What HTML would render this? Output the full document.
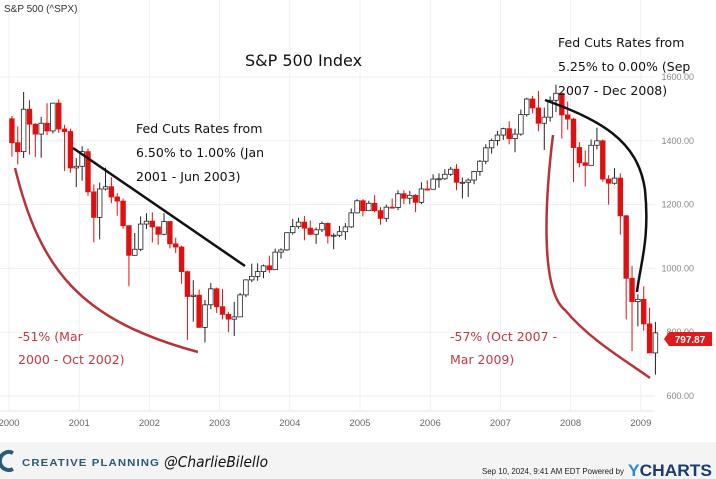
<!DOCTYPE html>
<html><head><meta charset="utf-8"><style>
body{margin:0;width:716px;height:479px;overflow:hidden;background:#fff;font-family:"Liberation Sans",sans-serif}
svg{display:block}
.hand{font-family:"DejaVu Sans",sans-serif}
</style></head><body>
<svg id="c" width="716" height="479">
<rect x="0" y="442" width="716" height="37" fill="#f4f4f4"/>
<g id="grid"></g><g id="candles"></g><g id="axes"></g>
<text x="4" y="12" font-size="10" fill="#333">S&amp;P 500 (^SPX)</text>
<text x="245" y="66" font-size="16" class="hand" fill="#111">S&amp;P 500 Index</text>
<g class="hand" font-size="12.5" fill="#111">
<text x="136" y="133">Fed Cuts Rates from</text><text x="136" y="157">6.50% to 1.00% (Jan</text><text x="136" y="181">2001 - Jun 2003)</text></g>
<g class="hand" font-size="12.5" fill="#111">
<text x="558" y="47">Fed Cuts Rates from</text><text x="558" y="71">5.25% to 0.00% (Sep</text><text x="558" y="95">2007 - Dec 2008)</text></g>
<g class="hand" font-size="12.5" fill="#c23a45">
<text x="18" y="341">-51% (Mar</text><text x="18" y="364">2000 - Oct 2002)</text></g>
<g class="hand" font-size="12.5" fill="#c23a45">
<text x="450" y="341">-57% (Oct 2007 -</text><text x="450" y="364">Mar 2009)</text></g>
<line x1="73" y1="148" x2="245" y2="266" stroke="#111" stroke-width="2.5"/>
<path d="M15,168 C40,270 80,320 198,352" fill="none" stroke="#b8323a" stroke-width="2.5"/>
<path d="M545,100 C600,120 638,140 645,190 C650,240 640,265 637,292" fill="none" stroke="#111" stroke-width="2.5"/>
<path d="M553,135 C545,200 540,290 565,310 C590,340 625,360 650,378" fill="none" stroke="#b8323a" stroke-width="2.5"/>
<g><polygon points="664,339 669,332 712,332 712,346 669,346" fill="#e01b1b"/><text x="690" y="343" font-size="10" font-weight="bold" fill="#fff" text-anchor="middle">797.87</text></g>
<g><path d="M13,453 a9,9 0 1,0 0,16" fill="none" stroke="#2a5b73" stroke-width="4"/><text x="22" y="466" font-size="10.5" font-weight="bold" fill="#2a5b73" letter-spacing="1" textLength="138" lengthAdjust="spacingAndGlyphs">CREATIVE PLANNING</text></g>
<text x="164" y="467" font-size="15" class="hand" font-style="italic" fill="#111" textLength="104" lengthAdjust="spacingAndGlyphs">@CharlieBilello</text>
<text x="482" y="474" font-size="8.5" fill="#222" textLength="142" lengthAdjust="spacingAndGlyphs">Sep 10, 2024, 9:41 AM EDT Powered by</text>
<text x="628" y="476" font-size="17" font-weight="bold" fill="#1a3c6e" textLength="84" lengthAdjust="spacingAndGlyphs"><tspan fill="#2b8ad8">Y</tspan>CHARTS</text>
</svg>
<script>
const years=["2000","2001","2002","2003","2004","2005","2006","2007","2008","2009"];
const yTicks=[600,800,1000,1200,1400,1600];
const closes=[1394,1366,1499,1452,1421,1455,1431,1518,1437,1429,1315,1320,
1366,1240,1160,1249,1256,1224,1211,1134,1041,1060,1139,1148,
1130,1107,1147,1077,1067,990,912,916,815,886,936,880,
856,841,848,917,964,975,990,1008,996,1051,1058,1112,
1131,1145,1126,1107,1121,1141,1102,1104,1115,1130,1174,1212,
1181,1204,1181,1157,1192,1191,1234,1220,1229,1207,1249,1248,
1280,1281,1295,1311,1270,1270,1277,1304,1336,1378,1401,1418,
1438,1407,1421,1482,1531,1503,1455,1474,1527,1549,1481,1468,
1379,1331,1323,1386,1400,1280,1267,1283,1165,969,896,903,
826,735,798];
const highs=[1478,1445,1553,1527,1455,1475,1518,1519,1530,1450,1438,1346,
1383,1376,1263,1269,1316,1286,1236,1219,1133,1111,1163,1173,
1176,1131,1173,1147,1096,1071,993,963,934,901,954,940,
935,864,895,923,966,1015,1016,1012,1040,1062,1063,1112,
1155,1159,1164,1150,1128,1147,1144,1110,1133,1142,1188,1217,
1217,1212,1230,1192,1200,1219,1245,1245,1243,1233,1270,1276,
1295,1298,1311,1318,1327,1285,1282,1306,1340,1389,1407,1431,
1441,1461,1438,1498,1535,1541,1556,1504,1539,1576,1545,1523,
1472,1396,1370,1404,1441,1404,1292,1314,1298,1167,1008,919,
944,877,832];
const lows=[1350,1326,1346,1357,1349,1347,1418,1423,1425,1305,1300,1255,
1275,1228,1082,1091,1244,1204,1165,1124,944,1040,1054,1124,
1081,1074,1104,1063,1048,952,776,833,815,768,872,860,
840,800,788,848,910,957,961,969,986,995,1031,1055,
1106,1124,1088,1105,1077,1114,1078,1060,1098,1090,1127,1172,
1163,1180,1176,1137,1146,1188,1183,1202,1201,1176,1202,1244,
1253,1253,1277,1290,1245,1219,1224,1264,1290,1327,1360,1385,
1403,1389,1364,1416,1476,1486,1430,1371,1460,1490,1407,1435,
1271,1317,1257,1324,1373,1272,1200,1262,1106,840,741,818,
805,735,667];
const prevClose=1469;
const NS="http://www.w3.org/2000/svg";
const X0=9,MW=5.85;
const xM=i=>X0+(i+0.5)*MW;
const yV=v=>77+(1600-v)*0.319;
function mk(t,a,p){const e=document.createElementNS(NS,t);for(const k in a)e.setAttribute(k,a[k]);p.appendChild(e);return e;}
const grid=document.getElementById('grid'),cg=document.getElementById('candles'),ax=document.getElementById('axes');
yTicks.forEach(v=>{
 const l=mk('line',{x1:0,x2:655,y1:yV(v),y2:yV(v),stroke:'#eee'},grid);
 
 
 const t=mk('text',{x:694,y:yV(v)+3,'font-size':9,fill:'#888','text-anchor':'end'},ax);t.textContent=v.toFixed(2);
 
 
});
years.forEach((y,k)=>{
 const x=X0+k*12*MW;
 const l=mk('line',{x1:x,x2:x,y1:0,y2:410,stroke:'#f0f0f0'},grid);
 
 
 const t=mk('text',{x:x,y:426,'font-size':9.5,fill:'#666','text-anchor':'middle'},ax);t.textContent=y;
 
 
});
mk('line',{x1:0,x2:655,y1:411,y2:411,stroke:'#e4e4e4'},ax);
closes.forEach((c,i)=>{
 const o=i?closes[i-1]:prevClose,up=c>=o,x=xM(i);
 const g=mk('g',{},cg);
 
 
 mk('line',{x1:x,x2:x,y1:yV(highs[i]),y2:yV(lows[i]),stroke:up?'#222':'#d11',"stroke-width":1},g);
 const top=yV(Math.max(o,c)),h=Math.max(1,Math.abs(yV(o)-yV(c)));
 mk('rect',{x:x-2.3,y:top,width:4.6,height:h,fill:up?'#fff':'#e01010',stroke:up?'#222':'#e01010','stroke-width':0.8},g);
});
</script>
</body></html>
